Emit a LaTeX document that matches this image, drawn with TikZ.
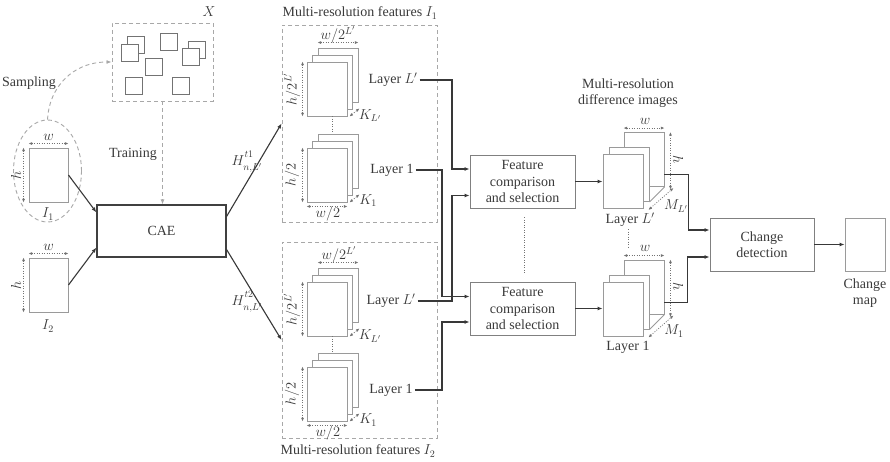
\documentclass[tikz,border=0pt]{standalone}
\usepackage{fontspec}
\setmainfont{Liberation Serif}
\usetikzlibrary{arrows.meta,calc,shapes.geometric}
\definecolor{txt}{HTML}{3A3A3A}
\definecolor{edgec}{HTML}{9A9A9A}
\definecolor{dashc}{HTML}{A8A8A8}
\definecolor{arrc}{HTML}{383838}
\tikzset{
 card/.style={rectangle,draw=edgec,line width=0.9pt,fill=white,inner sep=0pt,minimum width=40pt,minimum height=54pt},
 sq/.style={rectangle,draw=black!55,line width=0.8pt,fill=white,inner sep=0pt,minimum size=17pt},
 proc/.style={rectangle,draw=black!50,line width=0.9pt,fill=white,align=center,inner sep=2pt},
 dbox/.style={draw=dashc,line width=0.9pt,dash pattern=on 4pt off 3pt},
 conn/.style={draw=arrc,line width=1.1pt,-{Latex[length=5pt,width=4pt]}},
 dline/.style={draw=dashc,line width=0.9pt,dash pattern=on 4pt off 3pt,-{Latex[length=5pt,width=4pt]}},
 dim/.style={draw=black!55,line width=0.7pt,dash pattern=on 1pt off 1.5pt,{Latex[length=3.5pt,width=3pt]}-{Latex[length=3.5pt,width=3pt]}},
 dotl/.style={draw=black!55,line width=0.7pt,dash pattern=on 1pt off 1.5pt},
 lbl/.style={inner sep=2pt,text=txt},
 sm/.style={inner sep=0pt,text=txt,font=\fontsize{14}{16}\selectfont},
}
\newcommand{\mystack}[3]{%
 \node[card] (#1b) at (#2+11,#3-14) {};
 \node[card] (#1m) at (#2+5.5,#3-7) {};
 \node[card] (#1f) at (#2,#3) {};}
\newcommand{\mydstack}[3]{%
 \node[card] (#1b) at (#2+21,#3-22) {};
 \node[card] (#1m) at (#2+6,#3-7) {};
 \draw[draw=edgec,line width=0.9pt] (#1m.south east) -- (#1b.south east);
 \node[card] (#1f) at (#2,#3) {};}
\newcommand{\hlab}[1]{$H^{\raisebox{2.5pt}{$\scriptstyle #1$}}_{\raisebox{-2pt}{$\scriptstyle n,L'$}}$}
\begin{document}
\begin{tikzpicture}[x=1pt,y=-1pt,font=\fontsize{14}{16.5}\selectfont,text=txt]
\fill[white] (0,0) rectangle (890,462);
\useasboundingbox (0,0) rectangle (890,462);

% ---------- training set X ----------
\node[dbox,rectangle,minimum width=101pt,minimum height=78pt,inner sep=0pt] (Xb) at (162.5,62) {};
\node[lbl] (Xl) at (209,12) {$X$};
\node[sq] (s1) at (135.5,45) {};
\node[sq] (s2) at (129.5,52.5) {};
\node[sq] (s3) at (169,41.5) {};
\node[sq] (s4) at (197,49.5) {};
\node[sq] (s5) at (190.5,57) {};
\node[sq] (s6) at (154,66.5) {};
\node[sq] (s7) at (134,86) {};
\node[sq] (s8) at (180.5,86) {};

% ---------- inputs ----------
\node[lbl] (samp) at (29,83) {Sampling};
\node[dbox,ellipse,minimum width=68pt,minimum height=102pt,inner sep=0pt] (E1) at (47.5,171) {};
\draw[dline] (E1.north) .. controls (49,88) and (72,62) .. (Xb.west);

\node[card,minimum width=39pt] (I1) at (48.5,175) {};
\draw[dim] ($(I1.north west)+(0,-4)$) -- ($(I1.north east)+(0,-4)$);
\node[sm] (w1) at (48.5,137) {$w$};
\draw[dim] ($(I1.north west)+(-5,0)$) -- ($(I1.south west)+(-5,0)$);
\node[sm,rotate=90] (h1) at (16,175) {$h$};
\node[lbl] (I1l) at (48,214) {$I_1$};

\node[card,minimum width=39pt] (I2) at (48.5,285) {};
\draw[dim] ($(I2.north west)+(0,-4)$) -- ($(I2.north east)+(0,-4)$);
\node[sm] (w2) at (48.5,247) {$w$};
\draw[dim] ($(I2.north west)+(-5,0)$) -- ($(I2.south west)+(-5,0)$);
\node[sm,rotate=90] (h2) at (16,285) {$h$};
\node[lbl] (I2l) at (48,326) {$I_2$};

% ---------- CAE ----------
\node[proc,draw=black!75,line width=1.3pt,minimum width=129pt,minimum height=52pt] (CAE) at (161.5,231) {CAE};
\node[lbl] (tr) at (133,154) {Training};
\draw[dline] (Xb.south) -- (Xb.south |- CAE.north);
\draw[conn] (I1.east) -- ($(CAE.north west)+(0,8)$);
\draw[conn] (I2.east) -- ($(CAE.south west)+(0,-10)$);

% ---------- feature boxes ----------
\node[dbox,rectangle,minimum width=155pt,minimum height=197pt,inner sep=0pt] (F1) at (359.5,123.5) {};
\node[dbox,rectangle,minimum width=155pt,minimum height=196pt,inner sep=0pt] (F2) at (359.5,340) {};
\node[lbl] (F1t) at (360,13) {Multi-resolution features $I_1$};
\node[lbl] (F2t) at (358,451) {Multi-resolution features $I_2$};

\draw[conn] ($(CAE.north east)+(0,12)$) -- (F1.west);
\draw[conn] ($(CAE.south east)+(0,-8)$) -- (F2.west);
\node[lbl] (H1) at (247,162) {\hlab{t1}};
\node[lbl] (H2) at (247,302) {\hlab{t2}};

% stacks of I1
\mystack{a1}{327}{89}
\draw[dim] ($(a1b.north west)+(0,-5)$) -- ($(a1b.north east)+(0,-5)$);
\node[sm] (a1w) at (338,35) {$w/2^{L'}$};
\draw[dim] ($(a1f.north west)+(-4,0)$) -- ($(a1f.south west)+(-4,0)$);
\node[sm,rotate=90] (a1h) at (292,89) {$h/2^{L'}$};
\draw[dim] ($(a1f.south east)+(2,0)$) -- ($(a1f.south east)+(12,-8)$);
\node[sm] (a1k) at (370,116) {$K_{L'}$};

\mystack{b1}{327}{175}
\draw[dim] ($(b1f.south west)+(0,4)$) -- ($(b1f.south east)+(0,4)$);
\node[sm] (b1w) at (328,214) {$w/2$};
\draw[dim] ($(b1f.north west)+(-4,0)$) -- ($(b1f.south west)+(-4,0)$);
\node[sm,rotate=90] (b1h) at (292,175) {$h/2$};
\draw[dim] ($(b1f.south east)+(2,0)$) -- ($(b1f.south east)+(12,-8)$);
\node[sm] (b1k) at (368,201) {$K_1$};
\draw[dotl] (a1m |- a1f.south) -- (a1m |- b1b.north);

% stacks of I2
\mystack{a2}{327}{309}
\draw[dim] ($(a2b.north west)+(0,-5)$) -- ($(a2b.north east)+(0,-5)$);
\node[sm] (a2w) at (339,255) {$w/2^{L'}$};
\draw[dim] ($(a2f.north west)+(-4,0)$) -- ($(a2f.south west)+(-4,0)$);
\node[sm,rotate=90] (a2h) at (292,309) {$h/2^{L'}$};
\draw[dim] ($(a2f.south east)+(2,0)$) -- ($(a2f.south east)+(12,-8)$);
\node[sm] (a2k) at (370,336) {$K_{L'}$};

\mystack{b2}{327}{394}
\draw[dim] ($(b2f.south west)+(0,4)$) -- ($(b2f.south east)+(0,4)$);
\node[sm] (b2w) at (328,433) {$w/2$};
\draw[dim] ($(b2f.north west)+(-4,0)$) -- ($(b2f.south west)+(-4,0)$);
\node[sm,rotate=90] (b2h) at (292,394) {$h/2$};
\draw[dim] ($(b2f.south east)+(2,0)$) -- ($(b2f.south east)+(12,-8)$);
\node[sm] (b2k) at (368,420) {$K_1$};
\draw[dotl] (a2m |- a2f.south) -- (a2m |- b2b.north);

% layer labels
\node[lbl] (LA1) at (393,80) {Layer $L'$};
\node[lbl] (LB1) at (392,170) {Layer 1};
\node[lbl] (LA2) at (391,301) {Layer $L'$};
\node[lbl] (LB2) at (391,390) {Layer 1};

% ---------- comparison ----------
\node[proc,minimum width=105pt,minimum height=53pt] (FC1) at (522.5,181.5) {Feature\\comparison\\and selection};
\node[proc,minimum width=105pt,minimum height=53pt] (FC2) at (522.5,308.5) {Feature\\comparison\\and selection};
\draw[dotl] ($(FC1.south)+(1.5,9)$) -- ($(FC2.north)+(1.5,-9)$);

\coordinate (jA) at (452,0);
\coordinate (jB) at (442,0);
\draw[conn] (LA1.east) -- (LA1.east -| jA) |- ($(FC1.west)+(0,-12.5)$);
\draw[conn] (LA2.east) -- (LA2.east -| jA) |- ($(FC1.west)+(0,14)$);
\draw[conn] (LB1.east) -- (LB1.east -| jB) |- ($(FC2.west)+(0,-12)$);
\draw[conn] (LB2.east) -- (LB2.east -| jB) |- ($(FC2.west)+(0,13.5)$);

% ---------- difference images ----------
\node[lbl,align=center] (DT) at (628,93) {Multi-resolution\\difference images};

\mydstack{D1}{623}{181.5}
\draw[dim] ($(D1b.north west)+(0,-4)$) -- ($(D1b.north east)+(0,-4)$);
\node[sm] (D1w) at (645,121) {$w$};
\draw[dim] ($(D1b.north east)+(6,0)$) -- ($(D1b.south east)+(6,2.5)$);
\node[sm,rotate=-90] (D1h) at (678,160) {$h$};
\draw[dim] ($(D1f.south east)+(5,1)$) -- ($(D1b.south east)+(9,1)$);
\node[sm] (D1m) at (676,206) {$M_{L'}$};
\node[lbl] (LD1) at (630,220) {Layer $L'$};
\draw[dotl] ($(LD1.south)+(-2,0)$) -- ++(0,18);

\mydstack{D2}{623}{309}
\draw[dim] ($(D2b.north west)+(0,-4)$) -- ($(D2b.north east)+(0,-4)$);
\node[sm] (D2w) at (645,248) {$w$};
\draw[dim] ($(D2b.north east)+(6,0)$) -- ($(D2b.south east)+(6,2.5)$);
\node[sm,rotate=-90] (D2h) at (678,287) {$h$};
\draw[dim] ($(D2f.south east)+(5,1)$) -- ($(D2b.south east)+(9,1)$);
\node[sm] (D2m) at (674,331) {$M_1$};
\node[lbl] (LD2) at (628,347) {Layer 1};

\draw[conn] (FC1.east) -- (FC1.east -| D1f.west);
\draw[conn] (FC2.east) -- (FC2.east -| D2f.west);

% ---------- change detection ----------
\node[proc,minimum width=104pt,minimum height=53pt] (CD) at (762,244.5) {Change\\detection};
\draw[conn] ($(D1b.south east)+(0,-12)$) -- ++(24,0) |- ($(CD.west)+(0,-14.5)$);
\draw[conn] ($(D2b.south east)+(0,-12)$) -- ++(23,0) |- ($(CD.west)+(0,12.5)$);

\node[card,minimum width=40pt,minimum height=53pt] (CM) at (865,244.5) {};
\node[lbl,align=center] (CMl) at (865,293) {Change\\map};
\draw[conn] (CD.east) -- (CM.west);
\end{tikzpicture}
\end{document}
